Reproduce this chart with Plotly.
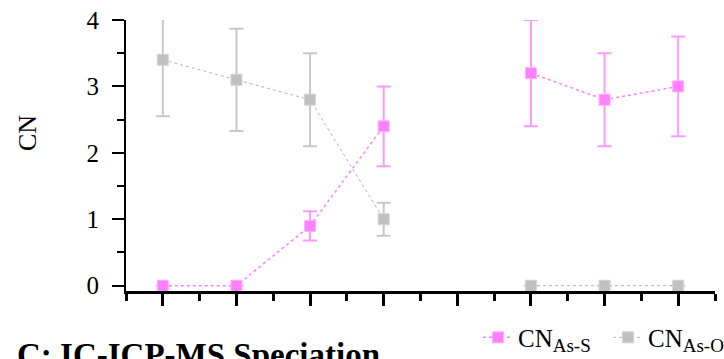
import plotly.graph_objects as go

# Sample positions along the series (position 5 has no measurement)
positions = [1, 2, 3, 4, 5, 6, 7, 8]

# Coordination numbers and their uncertainties
cn_as_s = [0, 0, 0.9, 2.4, None, 3.2, 2.8, 3.0]
cn_as_s_err = [0, 0, 0.22, 0.6, None, 0.8, 0.7, 0.75]
cn_as_o = [3.4, 3.1, 2.8, 1.0, None, 0, 0, 0]
cn_as_o_err = [0.85, 0.77, 0.7, 0.25, None, 0, 0, 0]

y_ticks = [0, 1, 2, 3, 4]

PINK = "#FF80FF"
GRAY = "#C0C0C0"
FONT = "Liberation Serif, Times New Roman, serif"


def label(sub):
    return 'CN<sub><span style="font-size:19px">' + sub + '</span></sub>'


fig = go.Figure()

fig.add_trace(go.Scatter(
    x=positions, y=cn_as_s, name=label("As-S"), legend="legend",
    mode="lines+markers", connectgaps=False,
    line=dict(color=PINK, width=1.5, dash="dot"),
    marker=dict(symbol="square", size=11, color=PINK,
                line=dict(color="#FFB0FF", width=1)),
    error_y=dict(type="data", array=cn_as_s_err, visible=True,
                 color="#FF99FF", thickness=2, width=7),
))

fig.add_trace(go.Scatter(
    x=positions, y=cn_as_o, name=label("As-O"), legend="legend2",
    mode="lines+markers", connectgaps=False,
    line=dict(color="#B4B4B4", width=1, dash="dot"),
    marker=dict(symbol="square", size=11, color=GRAY,
                line=dict(color="#D4D4D4", width=1)),
    error_y=dict(type="data", array=cn_as_o_err, visible=True,
                 color="#C8C8C8", thickness=2, width=7),
))

legend_style = dict(orientation="h", xanchor="left", yanchor="middle",
                    font=dict(family=FONT, size=25, color="black"),
                    bgcolor="rgba(0,0,0,0)", itemwidth=30)

fig.update_layout(
    width=724, height=359,
    margin=dict(l=126, r=9, t=20, b=68, autoexpand=False),
    paper_bgcolor="white", plot_bgcolor="white",
    font=dict(family=FONT, size=25, color="black"),
    showlegend=True,
    legend=dict(x=(478 - 126) / 589, y=-0.172, **legend_style),
    legend2=dict(x=(608 - 126) / 589, y=-0.172, **legend_style),
)

fig.update_xaxes(
    range=[0.5, 8.5], tickvals=positions,
    showticklabels=False, showgrid=False, zeroline=False,
    showline=True, linecolor="black", linewidth=2.5,
    ticks="outside", ticklen=12, tickwidth=2.5, tickcolor="black",
    minor=dict(ticks="outside", ticklen=7, tickwidth=2.5, tickcolor="black",
               tick0=0.5, dtick=1, showgrid=False),
)

fig.update_yaxes(
    range=[-0.08, 4], tickvals=y_ticks, ticktext=[str(v) for v in y_ticks],
    showgrid=False, zeroline=False,
    showline=True, linecolor="black", linewidth=2,
    ticks="outside", ticklen=12, tickwidth=2, tickcolor="black",
    ticklabelstandoff=8,
    tickfont=dict(family=FONT, size=25, color="black"),
    minor=dict(ticks="outside", ticklen=7, tickwidth=2, tickcolor="black",
               tick0=0.5, dtick=1, showgrid=False),
)

# Axis title
fig.add_annotation(
    text="CN", textangle=-90, xref="paper", yref="paper",
    x=(27 - 126) / 589, y=(291 - 133) / 271, xanchor="center", yanchor="middle",
    showarrow=False, font=dict(family=FONT, size=26, color="black"),
)

# Panel caption
fig.add_annotation(
    text="<b>C: IC-ICP-MS Speciation</b>", xref="paper", yref="paper",
    x=(15 - 126) / 589, y=(291 - 355) / 271, xanchor="left", yanchor="middle",
    showarrow=False, font=dict(family=FONT, size=33, color="black"),
)

fig.write_html("out.html")
